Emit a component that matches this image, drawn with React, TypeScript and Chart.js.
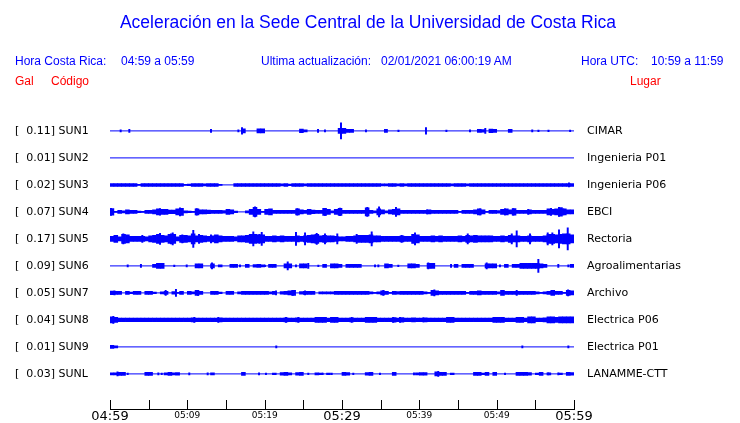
import React, { useEffect, useRef } from "react";
import { Chart, registerables } from "chart.js";

Chart.register(...registerables);

// ---------- data ----------
const CODES = ["SUN1", "SUN2", "SUN3", "SUN4", "SUN5", "SUN6", "SUN7", "SUN8", "SUN9", "SUNL"];
const GAL = [0.11, 0.01, 0.02, 0.07, 0.17, 0.09, 0.05, 0.04, 0.01, 0.03];
const PLACES = [
  "CIMAR",
  "Ingenieria P01",
  "Ingenieria P06",
  "EBCI",
  "Rectoria",
  "Agroalimentarias",
  "Archivo",
  "Electrica P06",
  "Electrica P01",
  "LANAMME-CTT",
];

const TIME_TICKS = [0, 10, 20, 30, 40, 50, 60];
const TIME_LABELS = ["04:59", "05:09", "05:19", "05:29", "05:39", "05:49", "05:59"];
const MAJOR_TIMES = [0, 30, 60];

// envelope half-amplitudes, one per half-minute bin (120 bins = 60 min)
const BIN_MIN = 0.5;

const SUN1_ENV = [
  0, 0, 0, 0, 0, 0, 0, 0, 0, 0,
  0, 0, 0, 0, 0, 0, 0, 0, 0, 0,
  0, 0, 0, 0, 0, 0, 0, 0, 0, 0,
  0, 0, 0, 0, 2, 0, 0, 0, 2, 2,
  0, 0, 0, 0, 0, 0, 0, 0, 0, 1.8,
  1, 0, 0, 0, 0, 0, 0, 0, 0, 2.5,
  2.5, 1.5, 1.5, 0, 0, 0, 0, 0, 0, 0,
  0, 0, 0, 0, 0, 0, 0, 0, 0, 0,
  0, 0, 0, 0, 0, 0, 0, 0, 0, 0,
  0, 0, 0, 0, 0, 1.5, 1.2, 0, 1.8, 1.5,
  0, 0, 0, 1.5, 0, 0, 0, 0, 0, 0,
  0, 0, 0, 0, 0, 0, 0, 0, 0, 0,
];
const SUN2_ENV = [
  0, 0, 0, 0, 0, 0, 0, 0, 0, 0,
  0, 0, 0, 0, 0, 0, 0, 0, 0, 0,
  0, 0, 0, 0, 0, 0, 0, 0, 0, 0,
  0, 0, 0, 0, 0, 0, 0, 0, 0, 0,
  0, 0, 0, 0, 0, 0, 0, 0, 0, 0,
  0, 0, 0, 0, 0, 0, 0, 0, 0, 0,
  0, 0, 0, 0, 0, 0, 0, 0, 0, 0,
  0, 0, 0, 0, 0, 0, 0, 0, 0, 0,
  0, 0, 0, 0, 0, 0, 0, 0, 0, 0,
  0, 0, 0, 0, 0, 0, 0, 0, 0, 0,
  0, 0, 0, 0, 0, 0, 0, 0, 0, 0,
  0, 0, 0, 0, 0, 0, 0, 0, 0, 0,
];
const SUN3_ENV = [
  1.4, 1.4, 1.4, 1.4, 1.4, 1.4, 1.4, 0.5, 1.4, 1.4,
  1.4, 1.4, 1.4, 1.4, 1.4, 1.4, 1.4, 1.4, 1.4, 0.5,
  0.8, 1.4, 1.4, 1.4, 1, 1.4, 1.4, 1.4, 0.5, 0,
  0, 0, 1.4, 1.4, 1.4, 1.4, 1.4, 1.4, 1.4, 1.4,
  1.4, 1.4, 1.4, 1.4, 1, 1.4, 0.8, 1.4, 1.4, 1.4,
  1, 1.4, 1.4, 1.4, 1.4, 1.4, 1.4, 1.4, 1.4, 1.4,
  1.4, 1.4, 1.4, 1.4, 1.4, 1.4, 1.4, 1.4, 1.4, 1.4,
  1, 1, 1.4, 1.4, 1, 1.4, 1, 1.4, 1.4, 1.4,
  1.4, 1.4, 1.4, 1.4, 1.4, 1.4, 1.4, 1.4, 1, 1.4,
  1.4, 1.4, 1, 1.4, 1.4, 1.4, 1.4, 1.4, 1.4, 1.4,
  1.4, 1.4, 1.4, 1.4, 1.4, 1.4, 1.4, 1.4, 1.4, 1.4,
  1.4, 1.4, 1.4, 1.4, 1.4, 1.4, 1.4, 1.4, 1.4, 1.4,
];
const SUN4_ENV = [
  3.3, 0.5, 1.5, 1, 2, 1.5, 1.5, 0.8, 0.5, 1.5,
  1.5, 2, 3, 2.5, 2.5, 1.8, 1.8, 3, 3.5, 1,
  0.8, 0.5, 3, 2, 2, 1.8, 1.5, 1.5, 1.5, 1.2,
  2.5, 2, 0.8, 0, 0, 1, 2.5, 4.5, 2.5, 0.5,
  2.5, 3, 1.5, 1.5, 1.5, 1.5, 1.5, 1.5, 3, 2,
  1.5, 2.5, 1.8, 1.5, 1.5, 3.5, 2.5, 1, 2.5, 3.5,
  1.5, 1.5, 1.5, 1.5, 1.5, 1.5, 4, 1.5, 1, 3,
  2, 1, 2, 2.5, 3, 1.5, 1.5, 1.5, 1.5, 1.5,
  1.5, 1.5, 2, 1.5, 1.5, 1.5, 1.5, 1.5, 1.5, 1.5,
  0.5, 1.5, 1.5, 1.5, 2, 3, 2, 0.5, 1.5, 1.5,
  1.2, 2.5, 3, 2, 3.3, 1.5, 1.5, 1.5, 2, 1.5,
  1.5, 1.5, 1.5, 3, 2.5, 3, 4.3, 3, 2, 2,
];
const SUN5_ENV = [
  2.5, 3.5, 2, 4.5, 4, 2.5, 2.5, 2.5, 2.5, 2,
  3, 3.5, 4.5, 3.5, 3, 4.5, 4.5, 2, 3.5, 3.5,
  3, 5, 3, 3.5, 3, 2.5, 3, 4, 3, 2.5,
  2.5, 2.5, 2, 3, 3, 3.5, 4.5, 4.5, 4, 4,
  2.5, 2.5, 3, 2.5, 3, 2.5, 2.5, 2.5, 3, 2.5,
  3, 3.5, 4, 4.5, 3, 3.5, 3, 3, 2.5, 2,
  2, 2.5, 2.5, 3, 3.5, 3.5, 3.5, 4, 3, 3,
  2.5, 2.5, 2.5, 2.5, 2.5, 3, 2.5, 2.5, 4.5, 4,
  2.5, 2.5, 2.5, 3, 2.5, 3, 2.5, 2.5, 2.5, 2.5,
  3, 2.5, 3.5, 3, 3.5, 3, 3, 3, 3, 2.5,
  2.5, 3, 2.5, 3.5, 3, 3, 2.5, 2.5, 3, 2.5,
  2.5, 2.5, 3, 4.5, 4.5, 4, 4.5, 5, 5, 4,
];
const SUN6_ENV = [
  0, 0, 0, 0, 0, 0, 0, 0, 0, 0,
  0, 1.5, 2.5, 2.5, 0, 0, 0, 0, 0, 0,
  0, 0, 2, 2, 0, 0, 2, 0, 1, 0,
  0, 1.5, 1.5, 0, 0, 1.5, 0, 1.2, 1.5, 1,
  0, 1.5, 1.5, 0, 0, 2, 2, 0, 0, 2,
  2, 0, 0, 0, 0, 1.5, 0, 2, 2, 1.5,
  0, 1.5, 1.5, 1.5, 1.5, 0, 0, 0, 0, 0,
  0, 2, 1.5, 0, 0, 0, 0, 2, 2, 1.5,
  0, 0, 2.5, 2.5, 0, 0, 0, 0, 0, 1.5,
  0, 1.5, 1.5, 1.5, 0, 0, 0, 2, 2, 2,
  0, 0, 1.5, 0, 1.5, 1.5, 2.5, 2.5, 2.5, 2.5,
  2.5, 2, 1.5, 0, 0, 0, 0, 0, 0, 1.5,
];
const SUN7_ENV = [
  1.8, 1.5, 1.5, 0, 1.5, 0.8, 1.5, 1.5, 0, 1.5,
  1.5, 0.8, 0, 1, 1.5, 0, 1.2, 0.5, 1.5, 0,
  1.5, 1, 2.5, 1.5, 0, 0, 1.5, 1.5, 0.8, 0,
  1.5, 1.5, 0, 1, 1.5, 1.5, 1.5, 1.5, 1.5, 1.5,
  1.5, 1, 1.5, 0, 1.2, 1.5, 2, 2.5, 0, 1.2,
  1.5, 1.5, 1.5, 0, 1, 1, 1, 1, 1.5, 1.5,
  1.5, 1.5, 1.5, 1.5, 1.5, 1.5, 1.5, 1, 0.5, 1,
  2, 1.5, 0.5, 1.5, 1.2, 1.5, 1.5, 1.5, 1.5, 1.5,
  1.5, 1, 0.5, 2.5, 2, 1.5, 1.5, 1.5, 1.5, 1.5,
  1.5, 1.5, 0.5, 1.5, 1.5, 2, 1.5, 1.5, 1.5, 1.5,
  1, 2.5, 1.5, 1.5, 1.5, 1.5, 1.5, 1.5, 1.5, 1.5,
  1, 0.5, 1, 1.5, 2.5, 1.5, 1.5, 0.5, 2.5, 2,
];
const SUN8_ENV = [
  3, 2.5, 1.7, 1.7, 1.7, 1.7, 1.7, 1.7, 1.7, 1.7,
  1.7, 1.7, 1.7, 1.7, 1.7, 1.7, 1.7, 1.7, 1.7, 1.7,
  1.7, 2, 1.7, 1.7, 1.7, 1.7, 1.7, 1.7, 2, 1.7,
  1.7, 1.7, 1.7, 1.7, 1.7, 1.7, 1.7, 1.7, 1.7, 1.7,
  1.7, 1.7, 1.7, 1.7, 1.7, 2, 1.7, 1.7, 2, 1.7,
  1.7, 1.7, 1.7, 2.5, 2.5, 2.5, 1.7, 2.5, 2.5, 1.7,
  1.7, 1.7, 2, 1.7, 1.7, 1.7, 2.5, 2.5, 2.5, 1.7,
  1.7, 1.7, 1.7, 2.2, 1.7, 2.2, 1.7, 1.7, 2, 1.7,
  1.7, 2, 1.7, 1.7, 1.7, 1.7, 1.7, 2.5, 2.5, 1.7,
  1.7, 1.7, 1.7, 1.7, 1.7, 1.7, 1.7, 1.7, 1.7, 2.5,
  2.5, 2.5, 1.7, 1.7, 1.7, 2.5, 2.5, 1.7, 3, 3,
  1.7, 1.7, 2, 3, 3, 2.5, 3, 3, 3, 3,
];
const SUN9_ENV = [
  1.5, 1, 0, 0, 0, 0, 0, 0, 0, 0,
  0, 0, 0, 0, 0, 0, 0, 0, 0, 0,
  0, 0, 0, 0, 0, 0, 0, 0, 0, 0,
  0, 0, 0, 0, 0, 0, 0, 0, 0, 0,
  0, 0, 0, 0, 0, 0, 0, 0, 0, 0,
  0, 0, 0, 0, 0, 0, 0, 0, 0, 0,
  0, 0, 0, 0, 0, 0, 0, 0, 0, 0,
  0, 0, 0, 0, 0, 0, 0, 0, 0, 0,
  0, 0, 0, 0, 0, 0, 0, 0, 0, 0,
  0, 0, 0, 0, 0, 0, 0, 0, 0, 0,
  0, 0, 0, 0, 0, 0, 0, 0, 0, 0,
  0, 0, 0, 0, 0, 0, 0, 0, 0, 0,
];
const SUNL_ENV = [
  1, 1, 1.5, 1.5, 0, 0, 0, 0, 0, 1.5,
  1.5, 0, 0, 0, 1, 1.5, 1, 1.2, 0, 0,
  0, 0, 0, 0, 0, 0, 1, 0, 0, 0,
  0, 0, 0, 0, 1.5, 0, 0, 0, 0, 0,
  0, 0, 0.8, 0, 1.2, 1.5, 1, 0, 1.2, 1.5,
  0, 0, 0, 1, 0.8, 0, 0.8, 0, 0, 0,
  1.5, 1.2, 0, 0, 0, 0, 1.2, 1.5, 0, 0,
  0, 0, 0, 1.5, 0, 0, 0, 0, 0, 1,
  1.2, 1.2, 0, 0, 2, 1.5, 1.5, 0, 0.8, 0,
  0, 0, 0, 0, 1.5, 1.5, 0.8, 1.5, 0, 1.5,
  0, 0, 0, 0, 0, 1.5, 1.5, 1.5, 1.2, 0,
  0.8, 1.5, 0, 1, 0, 0, 0.8, 0, 1.5, 1.2,
];

// narrow spikes: [minute, half-amplitude]
const SUN1_SPK = [[1.38, 1], [2.5, 1.5], [13.06, 1.5], [16.6, 1], [17.07, 3.3], [26.9, 1.5], [27.8, 1], [29.87, 8], [33.1, 1], [35.56, 1.5], [35.8, 1.5], [37.3, 0.7], [40.86, 3.3], [43.5, 0.7], [46.55, 1], [48.53, 2.5], [54.6, 1], [55.4, 0.7], [56.7, 0.7], [59.5, 0.7]];
const SUN2_SPK: number[][] = [];
const SUN3_SPK = [[59.35, 2]];
const SUN4_SPK = [[0.13, 3.5], [6.47, 3.3], [9.05, 4], [11.21, 3.3], [18.75, 5], [24.22, 3.3], [27.8, 3.5], [29.74, 3.7], [33.27, 4.5], [34.79, 5], [36.98, 4.5], [40.99, 2], [47.85, 3], [51.08, 3], [52.15, 3.3], [54.09, 2.5], [57.03, 3.5], [58.06, 4.5], [58.62, 3]];
const SUN5_SPK = [[1.72, 5], [4.18, 3.5], [6.47, 5.5], [7.89, 5], [8.11, 6], [9.35, 4], [10.77, 8.5], [11.51, 4.5], [13.06, 4], [18.53, 7], [19.31, 4.5], [19.62, 6.5], [24.05, 6.5], [25.22, 6], [26.73, 5.5], [27.8, 5], [29.39, 5], [31.9, 4.5], [33.84, 7], [37.72, 3.5], [39.44, 6], [46.26, 5], [51.95, 5], [52.59, 8], [54.31, 5], [56.6, 6], [57.2, 6], [58.06, 9], [59.19, 11]];
const SUN6_SPK = [[2.29, 1], [4.0, 1.5], [8.31, 0.7], [9.92, 1], [13.19, 3], [16.81, 1], [20.04, 0.7], [22.98, 4], [24.05, 1], [25.64, 2.5], [26.94, 0.7], [34.27, 1], [34.7, 1], [37.28, 0.7], [41.16, 3], [44.1, 1.5], [48.71, 3], [50.43, 1], [55.39, 6.5], [57.97, 1.5], [59.27, 1]];
const SUN7_SPK = [[0.58, 2], [7.2, 2.5], [8.53, 3.5], [11.38, 2.5], [21.47, 2], [23.63, 2.5], [25.22, 2], [35.34, 2.5], [41.94, 3], [52.59, 2.5], [59.23, 3]];
const SUN8_SPK = [[0.43, 3.5], [10.9, 2.5], [14.0, 2.5], [22.76, 2.5], [24.35, 2.5], [31.26, 2.5], [36.63, 2.5], [37.5, 2.5], [40.51, 2]];
const SUN9_SPK = [[21.5, 1], [53.32, 1], [59.27, 1]];
const SUNL_SPK = [[0.97, 2], [2.29, 0.7], [6.25, 1], [6.69, 0.7], [10.25, 1], [12.63, 1], [19.27, 1], [20.17, 0.7], [25.64, 0.7], [27.5, 0.7], [28.67, 0.7], [31.46, 0.7], [34.91, 0.7], [39.31, 1], [42.45, 2.5], [51.08, 0.7], [56.68, 1], [57.97, 1]];

const ENVS = [SUN1_ENV, SUN2_ENV, SUN3_ENV, SUN4_ENV, SUN5_ENV, SUN6_ENV, SUN7_ENV, SUN8_ENV, SUN9_ENV, SUNL_ENV];
const SPKS = [SUN1_SPK, SUN2_SPK, SUN3_SPK, SUN4_SPK, SUN5_SPK, SUN6_SPK, SUN7_SPK, SUN8_SPK, SUN9_SPK, SUNL_SPK];

// ---------- styling ----------
const BLUE = "#0000ff";
const RED = "#ff0000";
const ROW = 27; // y units between traces (1 unit = 1 px)
const FIRST_TRACE_PX = 130.5;
const AXIS_PX = 409;
const CANVAS_H = 440;
const MONO = "'DejaVu Sans', sans-serif";
const SANS = "'Liberation Sans', Arial, sans-serif";

const tickMarks = {
  id: "tickMarks",
  afterDraw(chart: any) {
    const s = chart.scales.x;
    const ctx = chart.ctx;
    const y0 = Math.round(chart.chartArea.bottom);
    ctx.save();
    ctx.strokeStyle = "#000";
    ctx.lineWidth = 1;
    s.ticks.forEach((t: any) => {
      const px = Math.round(s.getPixelForValue(t.value)) + 0.5;
      ctx.beginPath();
      ctx.moveTo(px, y0 - 9);
      ctx.lineTo(px, y0);
      ctx.stroke();
    });
    ctx.restore();
  },
};

function traceTicks(scale: any) {
  scale.ticks = CODES.map((_, i) => ({ value: i * ROW }));
}

export default function App() {
  const ref = useRef<HTMLCanvasElement>(null);

  useEffect(() => {
    const canvas = ref.current;
    if (!canvas) return;
    const datasets: any[] = [];
    ENVS.forEach((env, i) => {
      const off = i * ROW;
      datasets.push({
        type: "line",
        data: [{ x: 0, y: off }, { x: 60, y: off }],
        borderColor: BLUE,
        borderWidth: 1,
        pointRadius: 0,
        yAxisID: "y",
      });
      datasets.push({
        type: "bar",
        data: env
          .map((a, k) => (a > 0 ? { x: (k + 0.5) * BIN_MIN, y: [off - a, off + a] } : null))
          .filter(Boolean),
        backgroundColor: BLUE,
        borderWidth: 0,
        barThickness: 3.9,
        grouped: false,
        yAxisID: "y",
      });
      datasets.push({
        type: "bar",
        data: SPKS[i].map(([m, a]) => ({ x: m, y: [off - a, off + a] })),
        backgroundColor: BLUE,
        borderWidth: 0,
        barThickness: 1.3,
        grouped: false,
        yAxisID: "y",
      });
    });

    const chart = new Chart(canvas, {
      type: "bar",
      data: { datasets },
      plugins: [tickMarks],
      options: {
        animation: false,
        responsive: false,
        devicePixelRatio: 1,
        events: [],
        layout: { padding: { left: 15, top: 100, right: 0, bottom: 0 } },
        plugins: { legend: { display: false }, tooltip: { enabled: false } },
        scales: {
          x: {
            type: "linear",
            min: 0,
            max: 60,
            offset: false,
            grid: { display: false, drawTicks: false },
            border: { display: true, color: "#000", width: 1 },
            ticks: {
              stepSize: 5,
              autoSkip: false,
              maxRotation: 0,
              padding: 0,
              color: "#000",
              callback: (v: any) => {
                const idx = TIME_TICKS.indexOf(Number(v));
                return idx >= 0 ? TIME_LABELS[idx] : "";
              },
              font: (ctx: any) =>
                MAJOR_TIMES.includes(ctx.tick?.value)
                  ? { family: MONO, size: 13, lineHeight: 1.05 }
                  : { family: MONO, size: 9, lineHeight: 1.4 },
            },
          },
          y: {
            type: "linear",
            position: "left",
            min: -20,
            max: 300,
            reverse: true,
            grid: { display: false, drawTicks: false },
            border: { display: false },
            afterBuildTicks: traceTicks,
            ticks: {
              autoSkip: false,
              crossAlign: "far",
              color: "#000",
              font: { family: MONO, size: 11 },
              callback: (v: any) => {
                const i = Math.round(Number(v) / ROW);
                return "[  " + GAL[i].toFixed(2) + "] " + CODES[i];
              },
            },
            afterFit: (s: any) => {
              s.width = 95;
            },
          },
          y2: {
            type: "linear",
            position: "right",
            min: -20,
            max: 300,
            reverse: true,
            grid: { display: false, drawTicks: false },
            border: { display: false },
            afterBuildTicks: traceTicks,
            ticks: {
              autoSkip: false,
              padding: 13,
              color: "#000",
              font: { family: MONO, size: 11 },
              callback: (v: any) => PLACES[Math.round(Number(v) / ROW)],
            },
            afterFit: (s: any) => {
              s.width = 166;
            },
          },
        },
      } as any,
    });

    // shift the canvas so the time axis sits on its reference row,
    // then scale y so that 1 unit = 1 px with the first trace on its row
    const ca = chart.chartArea;
    const shift = AXIS_PX - ca.bottom;
    canvas.style.top = shift + "px";
    const H = ca.bottom - ca.top;
    const yMin = -(FIRST_TRACE_PX - shift - ca.top);
    const o: any = chart.options;
    o.scales.y.min = yMin;
    o.scales.y.max = yMin + H;
    o.scales.y2.min = yMin;
    o.scales.y2.max = yMin + H;
    chart.update();

    return () => chart.destroy();
  }, []);

  const txt = (left: number, top: number, color: string, s: string) => (
    <div
      style={{
        position: "absolute",
        left,
        top,
        color,
        fontFamily: SANS,
        fontSize: 12,
        lineHeight: "14px",
        whiteSpace: "pre",
      }}
    >
      {s}
    </div>
  );

  return (
    <div
      style={{
        position: "fixed",
        left: 0,
        top: 0,
        width: 740,
        height: 423,
        background: "#fff",
        overflow: "hidden",
      }}
    >
      <canvas
        ref={ref}
        width={740}
        height={CANVAS_H}
        style={{ position: "absolute", left: 0, top: 0 }}
      />
      <div
        style={{
          position: "absolute",
          left: 0,
          top: 12,
          width: 736,
          textAlign: "center",
          color: BLUE,
          fontFamily: SANS,
          fontSize: 17.5,
          lineHeight: "21px",
          whiteSpace: "pre",
        }}
      >
        Aceleración en la Sede Central de la Universidad de Costa Rica
      </div>
      {txt(15, 54, BLUE, "Hora Costa Rica:")}
      {txt(121, 54, BLUE, "04:59 a 05:59")}
      {txt(261, 54, BLUE, "Ultima actualización:")}
      {txt(381, 54, BLUE, "02/01/2021 06:00:19 AM")}
      {txt(581, 54, BLUE, "Hora UTC:")}
      {txt(651, 54, BLUE, "10:59 a 11:59")}
      {txt(15, 74, RED, "Gal")}
      {txt(51, 74, RED, "Código")}
      {txt(630, 74, RED, "Lugar")}
    </div>
  );
}
